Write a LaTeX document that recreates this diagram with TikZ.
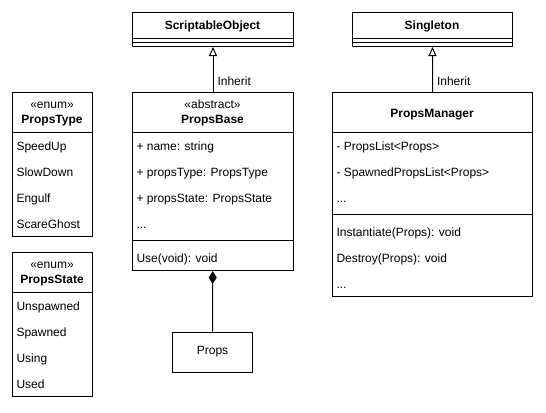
\documentclass[tikz,border=0pt]{standalone}
\usepackage{fontspec}
\setmainfont{Liberation Sans}
\usetikzlibrary{arrows.meta}
\begin{document}
\begin{tikzpicture}[x=1bp,y=-1bp,line width=1bp,
  cls/.style={draw,rectangle,inner sep=0pt,anchor=north west},
  txt/.style={inner sep=0pt,font=\fontsize{12bp}{14bp}\selectfont},
  item/.style={txt,anchor=base west},
  ttl/.style={txt,anchor=base,font=\fontsize{12bp}{14bp}\selectfont\bfseries},
  stereo/.style={txt,anchor=base},
  lbl/.style={txt,anchor=west,xshift=4bp},
  inh/.style={-{Triangle[open,length=9bp,width=8bp]}},
  comp/.style={{Diamond[length=13bp,width=8bp]}-}
]
\useasboundingbox[fill=white] (0,0) rectangle (546,412);

% ScriptableObject
\node[cls,minimum width=161bp,minimum height=34bp] (so) at (132,12) {};
\draw (132,38) -- (293,38);
\draw (132,42) -- (293,42);
\node[ttl] (soT) at (212.5,29.5) {ScriptableObject};

% Singleton
\node[cls,minimum width=160bp,minimum height=34bp] (sg) at (352,12) {};
\draw (352,38) -- (512,38);
\draw (352,42) -- (512,42);
\node[ttl] (sgT) at (432,29.5) {Singleton};

% PropsType
\node[cls,minimum width=80bp,minimum height=144bp] (pt) at (12,92) {};
\draw (12,132) -- (92,132);
\node[stereo] (ptS) at (52,108.5) {«enum»};
\node[ttl] (ptT) at (52,123) {PropsType};
\node[item] (pt1) at (16,150.5) {SpeedUp};
\node[item] (pt2) at (16,176.5) {SlowDown};
\node[item] (pt3) at (16,202.5) {Engulf};
\node[item] (pt4) at (16,228.5) {ScareGhost};

% PropsState
\node[cls,minimum width=80bp,minimum height=144bp] (ps) at (12,252) {};
\draw (12,292) -- (92,292);
\node[stereo] (psS) at (52,268.5) {«enum»};
\node[ttl] (psT) at (52,283) {PropsState};
\node[item] (ps1) at (16,310.5) {Unspawned};
\node[item] (ps2) at (16,336.5) {Spawned};
\node[item] (ps3) at (16,362.5) {Using};
\node[item] (ps4) at (16,388) {Used};

% PropsBase
\node[cls,minimum width=161bp,minimum height=178bp] (pb) at (132,92) {};
\draw (132,132) -- (293,132);
\draw (132,240) -- (293,240);
\node[stereo] (pbS) at (212.5,108.5) {«abstract»};
\node[ttl] (pbT) at (212.5,123) {PropsBase};
\node[item] (pb1) at (136,150.5) {+ name: string};
\node[item] (pb2) at (136,176.5) {+ propsType: PropsType};
\node[item] (pb3) at (136,202.5) {+ propsState: PropsState};
\node[item] (pb4) at (136,228) {...};
\node[item] (pb5) at (136,262) {Use(void): void};

% PropsManager
\node[cls,minimum width=200bp,minimum height=204bp] (pm) at (332,92) {};
\draw (332,132) -- (532,132);
\draw (332,214) -- (532,214);
\node[ttl] (pmT) at (432,117.5) {PropsManager};
\node[item] (pm1) at (336,150.5) {- PropsList<Props>};
\node[item] (pm2) at (336,176) {- SpawnedPropsList<Props>};
\node[item] (pm3) at (336,202) {...};
\node[item] (pm4) at (336,236) {Instantiate(Props): void};
\node[item] (pm5) at (336,262) {Destroy(Props): void};
\node[item] (pm6) at (336,288) {...};

% Props
\node[draw,rectangle,inner sep=0pt,minimum width=80bp,minimum height=40bp,
      font=\fontsize{12bp}{14bp}\selectfont] (props) at (212.5,352) {Props};

% connectors
\draw[inh] (pb) -- node[lbl,pos=0.24] (l1) {Inherit} (so);
\draw[inh] (pm) -- node[lbl,pos=0.24] (l2) {Inherit} (sg);
\draw[comp] (pb) -- (props);
\end{tikzpicture}
\end{document}
